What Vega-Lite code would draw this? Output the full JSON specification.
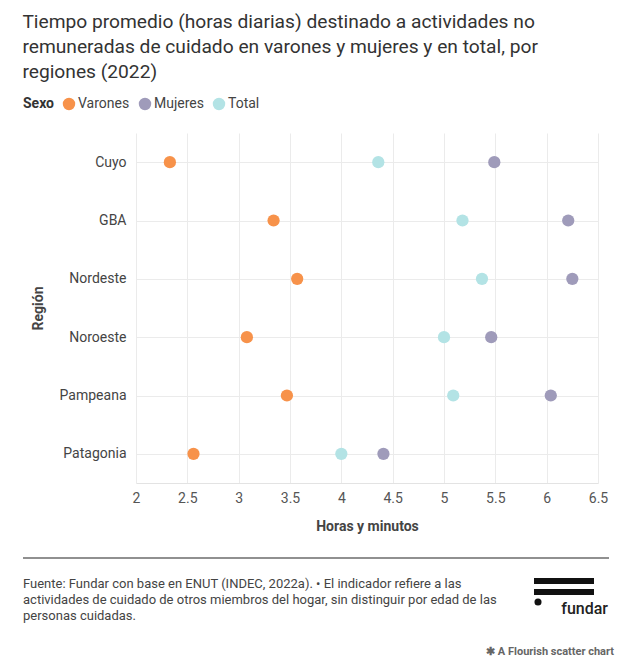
{
  "$schema": "https://vega.github.io/schema/vega-lite/v6.json",
  "padding": {"left": 22, "right": 18, "top": 12, "bottom": 4},
  "background": "white",
  "config": {"font": "Roboto", "view": {"stroke": null}},
  "title": {
    "text": ["Tiempo promedio (horas diarias) destinado a actividades no", "remuneradas de cuidado en varones y mujeres y en total, por", "regiones (2022)"],
    "anchor": "start", "frame": "bounds", "fontSize": 19.2, "fontWeight": "normal", "color": "#333333", "lineHeight": 25, "offset": 15
  },
  "spacing": 24,
  "vconcat": [
    {
      "width": 462,
      "height": 350,
      "data": {"values": [
        {"region": "Cuyo", "sexo": "Varones", "horas": 2.33},
        {"region": "Cuyo", "sexo": "Mujeres", "horas": 5.49},
        {"region": "Cuyo", "sexo": "Total", "horas": 4.36},
        {"region": "GBA", "sexo": "Varones", "horas": 3.34},
        {"region": "GBA", "sexo": "Mujeres", "horas": 6.21},
        {"region": "GBA", "sexo": "Total", "horas": 5.18},
        {"region": "Nordeste", "sexo": "Varones", "horas": 3.57},
        {"region": "Nordeste", "sexo": "Mujeres", "horas": 6.25},
        {"region": "Nordeste", "sexo": "Total", "horas": 5.37},
        {"region": "Noroeste", "sexo": "Varones", "horas": 3.08},
        {"region": "Noroeste", "sexo": "Mujeres", "horas": 5.46},
        {"region": "Noroeste", "sexo": "Total", "horas": 5.0},
        {"region": "Pampeana", "sexo": "Varones", "horas": 3.47},
        {"region": "Pampeana", "sexo": "Mujeres", "horas": 6.04},
        {"region": "Pampeana", "sexo": "Total", "horas": 5.09},
        {"region": "Patagonia", "sexo": "Varones", "horas": 2.56},
        {"region": "Patagonia", "sexo": "Mujeres", "horas": 4.41},
        {"region": "Patagonia", "sexo": "Total", "horas": 4.0}
      ]},
      "mark": {"type": "circle", "size": 150, "opacity": 1},
      "encoding": {
        "x": {
          "field": "horas", "type": "quantitative",
          "scale": {"domain": [2, 6.5], "nice": false, "zero": false},
          "axis": {
            "values": [2, 2.5, 3, 3.5, 4, 4.5, 5, 5.5, 6, 6.5], "format": ".1~f", "labelFlush": false,
            "title": "Horas y minutos", "titleFontSize": 14, "titleFontWeight": "bold", "titleColor": "#444444", "titlePadding": 14,
            "labelFontSize": 14, "labelColor": "#555555", "labelPadding": 8,
            "gridColor": "#ebebeb", "domainColor": "#e3e3e3", "ticks": false
          }
        },
        "y": {
          "field": "region", "type": "nominal",
          "sort": ["Cuyo", "GBA", "Nordeste", "Noroeste", "Pampeana", "Patagonia"],
          "scale": {"type": "point", "padding": 0.5},
          "axis": {
            "title": "Región", "titleFontSize": 14, "titleFontWeight": "bold", "titleColor": "#444444", "titlePadding": 14,
            "labelFontSize": 14, "labelColor": "#444444", "labelPadding": 10,
            "domain": false, "ticks": false, "grid": true, "gridColor": "#ebebeb"
          }
        },
        "color": {
          "field": "sexo", "type": "nominal",
          "scale": {"domain": ["Varones", "Mujeres", "Total"], "range": ["#f7924a", "#9f9bba", "#b3e3e5"]},
          "legend": {
            "title": "Sexo", "orient": "none", "legendX": -113, "legendY": -36, "direction": "horizontal",
            "titleOrient": "left", "titleFontSize": 14, "titleFontWeight": "bold", "titleColor": "#333333", "titlePadding": 8,
            "labelFontSize": 14, "labelColor": "#444444", "symbolType": "circle", "symbolSize": 154, "symbolOpacity": 1,
            "columnPadding": 8, "labelOffset": 2
          }
        }
      }
    },
    {
      "width": 462,
      "height": 96,
      "data": {"values": [{"texto": ["Fuente: Fundar con base en ENUT (INDEC, 2022a). • El indicador refiere a las", "actividades de cuidado de otros miembros del hogar, sin distinguir por edad de las", "personas cuidadas."], "marca": "fundar", "credito": "✱ A Flourish scatter chart"}]},
      "layer": [
        {"mark": {"type": "rule", "color": "#222222", "strokeWidth": 1.2},
         "encoding": {"x": {"value": -113}, "x2": {"value": 473}, "y": {"value": 0}}},
        {"mark": {"type": "text", "align": "left", "baseline": "middle", "fontSize": 13, "color": "#444444", "lineHeight": 16},
         "encoding": {"text": {"field": "texto"}, "x": {"value": -113}, "y": {"value": 26}}},
        {"mark": {"type": "rule", "color": "#111111", "strokeWidth": 6},
         "encoding": {"x": {"value": 398}, "x2": {"value": 458}, "y": {"value": 23}}},
        {"mark": {"type": "rule", "color": "#111111", "strokeWidth": 6},
         "encoding": {"x": {"value": 398}, "x2": {"value": 458}, "y": {"value": 34}}},
        {"mark": {"type": "circle", "color": "#111111", "opacity": 1, "size": 50},
         "encoding": {"x": {"value": 402}, "y": {"value": 44}}},
        {"mark": {"type": "text", "align": "right", "baseline": "middle", "fontSize": 16, "fontWeight": 500, "color": "#222222"},
         "encoding": {"text": {"field": "marca"}, "x": {"value": 472}, "y": {"value": 51}}},
        {"mark": {"type": "text", "align": "right", "baseline": "middle", "fontSize": 11, "fontWeight": "bold", "color": "#666666"},
         "encoding": {"text": {"field": "credito"}, "x": {"value": 478}, "y": {"value": 94}}}
      ]
    }
  ]
}
